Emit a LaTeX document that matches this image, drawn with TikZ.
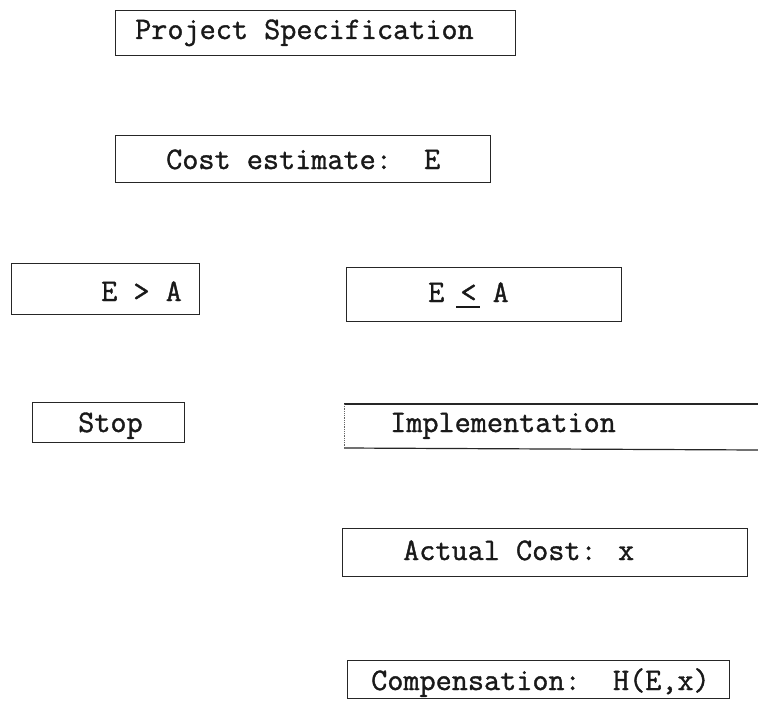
\documentclass[tikz,border=0pt]{standalone}
\usepackage{fontspec}
\newfontfamily\twfont{Latin Modern Mono}[FakeBold=1.2]
\begin{document}
\begin{tikzpicture}[x=1pt,y=-1pt,
  boxline/.style={line width=1.2pt, draw=black!85},
  frame/.style={boxline, rectangle, inner sep=0pt, anchor=north west},
  txt/.style={inner sep=0pt, anchor=base west, font=\twfont\fontsize{31.3}{31.3}\selectfont, text=black!90}]
\useasboundingbox[fill=white] (0,0) rectangle (758,709);
% boxes
\node[frame, minimum width=400pt, minimum height=45pt] (specbox) at (115,10) {};
\node[frame, minimum width=375pt, minimum height=47pt] (estbox) at (115,135) {};
\node[frame, minimum width=188pt, minimum height=51pt] (gtbox) at (11,263) {};
\node[frame, minimum width=275pt, minimum height=54pt] (lebox) at (346,267) {};
\node[frame, minimum width=152pt, minimum height=40pt] (stopbox) at (32,402) {};
\coordinate (impTL) at (344,404);
\coordinate (impBL) at (344,448);
\coordinate (impTR) at (758,404);
\coordinate (impBR) at (758,450);
\draw[boxline] (impTL) -- (impTR);
\draw[boxline] (impBL) -- (impBR);
\draw[boxline, line width=0.8pt, densely dotted, draw=black!60] (impTL) -- (impBL);
\node[frame, minimum width=405pt, minimum height=48pt] (actbox) at (342,528) {};
\node[frame, minimum width=382pt, minimum height=38pt] (compbox) at (347,660) {};
% texts
\node[txt] (spec) at (135,39) {Project Specification};
\node[txt] (est) at (166,169) {Cost estimate:\ \ E};
\node[txt] (gt) at (101,301) {E > A};
\node[txt] (le) at (428,302) {E \rlap{\kern-4pt\rule[-5.5pt]{24pt}{1.5pt}}< A};
\node[txt] (stop) at (78,432) {Stop};
\node[txt] (imp) at (390,432) {Implementation};
\node[txt] (act) at (403,560) {Actual Cost: x};
\node[txt] (comp) at (371,690) {Compensation:\ \ H(E,x)};
\end{tikzpicture}
\end{document}
